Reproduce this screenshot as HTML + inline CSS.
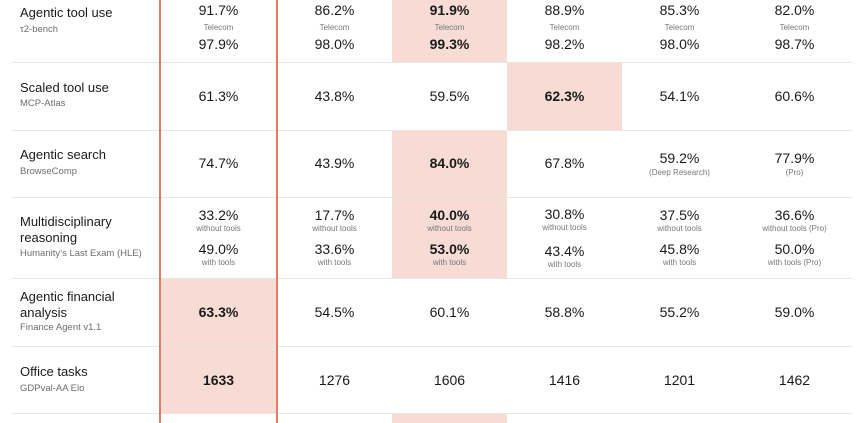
<!DOCTYPE html>
<html><head><meta charset="utf-8"><style>
*{margin:0;padding:0;box-sizing:border-box}
body{width:862px;height:423px;overflow:hidden;background:#fff;font-family:"Liberation Sans",sans-serif;color:#1a1a1a;position:relative}
.a{position:absolute}
.pk{position:absolute;background:#f6dcd4}
.hl{position:absolute;left:12px;width:840px;height:1px;background:#e9e6e1}
.vl{position:absolute;top:0;width:2px;height:423px;background:#dc7f60}
.v{position:absolute;width:115px;text-align:center;font-size:14px;line-height:16px;transform:translateY(-50%)}
.b{font-weight:bold}
.s{position:absolute;width:115px;text-align:center;font-size:8px;line-height:10px;color:#777;transform:translateY(-50%)}
.t{position:absolute;left:20px;font-size:13px;line-height:16px;color:#1a1a1a}
.st{position:absolute;left:20px;font-size:9.5px;line-height:12px;color:#6d6d6d}
</style></head><body>
<div class="pk" style="left:160px;top:278px;width:117px;height:135px"></div>
<div class="pk" style="left:392px;top:0;width:115px;height:62px"></div>
<div class="pk" style="left:392px;top:130px;width:115px;height:148px"></div>
<div class="pk" style="left:507px;top:62px;width:115px;height:68px"></div>
<div class="pk" style="left:392px;top:413px;width:115px;height:10px"></div>
<div class="hl" style="top:62px"></div>
<div class="hl" style="top:130px"></div>
<div class="hl" style="top:197px"></div>
<div class="hl" style="top:278px"></div>
<div class="hl" style="top:346px"></div>
<div class="hl" style="top:413px"></div>
<div class="vl" style="left:159px"></div>
<div class="vl" style="left:276px"></div>

<div class="t" style="top:5px">Agentic tool use</div><div class="st" style="top:24px">τ2-bench</div>
<div class="t" style="top:80px">Scaled tool use</div><div class="st" style="top:98px">MCP-Atlas</div>
<div class="t" style="top:147px">Agentic search</div><div class="st" style="top:166px">BrowseComp</div>
<div class="t" style="top:214px">Multidisciplinary<br>reasoning</div><div class="st" style="top:248px">Humanity’s Last Exam (HLE)</div>
<div class="t" style="top:289px">Agentic financial<br>analysis</div><div class="st" style="top:322px">Finance Agent v1.1</div>
<div class="t" style="top:364px">Office tasks</div><div class="st" style="top:383px">GDPval-AA Elo</div>

<!-- row1 -->
<div class="v" style="left:161px;top:10px">91.7%</div><div class="s" style="left:161px;top:28px">Telecom</div><div class="v" style="left:161px;top:44px">97.9%</div>
<div class="v" style="left:277px;top:10px">86.2%</div><div class="s" style="left:277px;top:28px">Telecom</div><div class="v" style="left:277px;top:44px">98.0%</div>
<div class="v b" style="left:392px;top:10px">91.9%</div><div class="s" style="left:392px;top:28px">Telecom</div><div class="v b" style="left:392px;top:44px">99.3%</div>
<div class="v" style="left:507px;top:10px">88.9%</div><div class="s" style="left:507px;top:28px">Telecom</div><div class="v" style="left:507px;top:44px">98.2%</div>
<div class="v" style="left:622px;top:10px">85.3%</div><div class="s" style="left:622px;top:28px">Telecom</div><div class="v" style="left:622px;top:44px">98.0%</div>
<div class="v" style="left:737px;top:10px">82.0%</div><div class="s" style="left:737px;top:28px">Telecom</div><div class="v" style="left:737px;top:44px">98.7%</div>
<!-- row2 -->
<div class="v" style="left:161px;top:96px">61.3%</div>
<div class="v" style="left:277px;top:96px">43.8%</div>
<div class="v" style="left:392px;top:96px">59.5%</div>
<div class="v b" style="left:507px;top:96px">62.3%</div>
<div class="v" style="left:622px;top:96px">54.1%</div>
<div class="v" style="left:737px;top:96px">60.6%</div>
<!-- row3 -->
<div class="v" style="left:161px;top:163px">74.7%</div>
<div class="v" style="left:277px;top:163px">43.9%</div>
<div class="v b" style="left:392px;top:163px">84.0%</div>
<div class="v" style="left:507px;top:163px">67.8%</div>
<div class="v" style="left:622px;top:158px">59.2%</div><div class="s" style="left:622px;top:173px">(Deep Research)</div>
<div class="v" style="left:737px;top:158px">77.9%</div><div class="s" style="left:737px;top:173px">(Pro)</div>
<!-- row4 -->
<div class="v" style="left:161px;top:215px">33.2%</div><div class="s" style="left:161px;top:229px">without tools</div><div class="v" style="left:161px;top:249px">49.0%</div><div class="s" style="left:161px;top:263px">with tools</div>
<div class="v" style="left:277px;top:215px">17.7%</div><div class="s" style="left:277px;top:229px">without tools</div><div class="v" style="left:277px;top:249px">33.6%</div><div class="s" style="left:277px;top:263px">with tools</div>
<div class="v b" style="left:392px;top:215px">40.0%</div><div class="s" style="left:392px;top:229px">without tools</div><div class="v b" style="left:392px;top:249px">53.0%</div><div class="s" style="left:392px;top:263px">with tools</div>
<div class="v" style="left:507px;top:214px">30.8%</div><div class="s" style="left:507px;top:228px">without tools</div><div class="v" style="left:507px;top:251px">43.4%</div><div class="s" style="left:507px;top:265px">with tools</div>
<div class="v" style="left:622px;top:215px">37.5%</div><div class="s" style="left:622px;top:229px">without tools</div><div class="v" style="left:622px;top:249px">45.8%</div><div class="s" style="left:622px;top:263px">with tools</div>
<div class="v" style="left:737px;top:215px">36.6%</div><div class="s" style="left:737px;top:229px">without tools (Pro)</div><div class="v" style="left:737px;top:249px">50.0%</div><div class="s" style="left:737px;top:263px">with tools (Pro)</div>
<!-- row5 -->
<div class="v b" style="left:161px;top:312px">63.3%</div>
<div class="v" style="left:277px;top:312px">54.5%</div>
<div class="v" style="left:392px;top:312px">60.1%</div>
<div class="v" style="left:507px;top:312px">58.8%</div>
<div class="v" style="left:622px;top:312px">55.2%</div>
<div class="v" style="left:737px;top:312px">59.0%</div>
<!-- row6 -->
<div class="v b" style="left:161px;top:380px">1633</div>
<div class="v" style="left:277px;top:380px">1276</div>
<div class="v" style="left:392px;top:380px">1606</div>
<div class="v" style="left:507px;top:380px">1416</div>
<div class="v" style="left:622px;top:380px">1201</div>
<div class="v" style="left:737px;top:380px">1462</div>
</body></html>
